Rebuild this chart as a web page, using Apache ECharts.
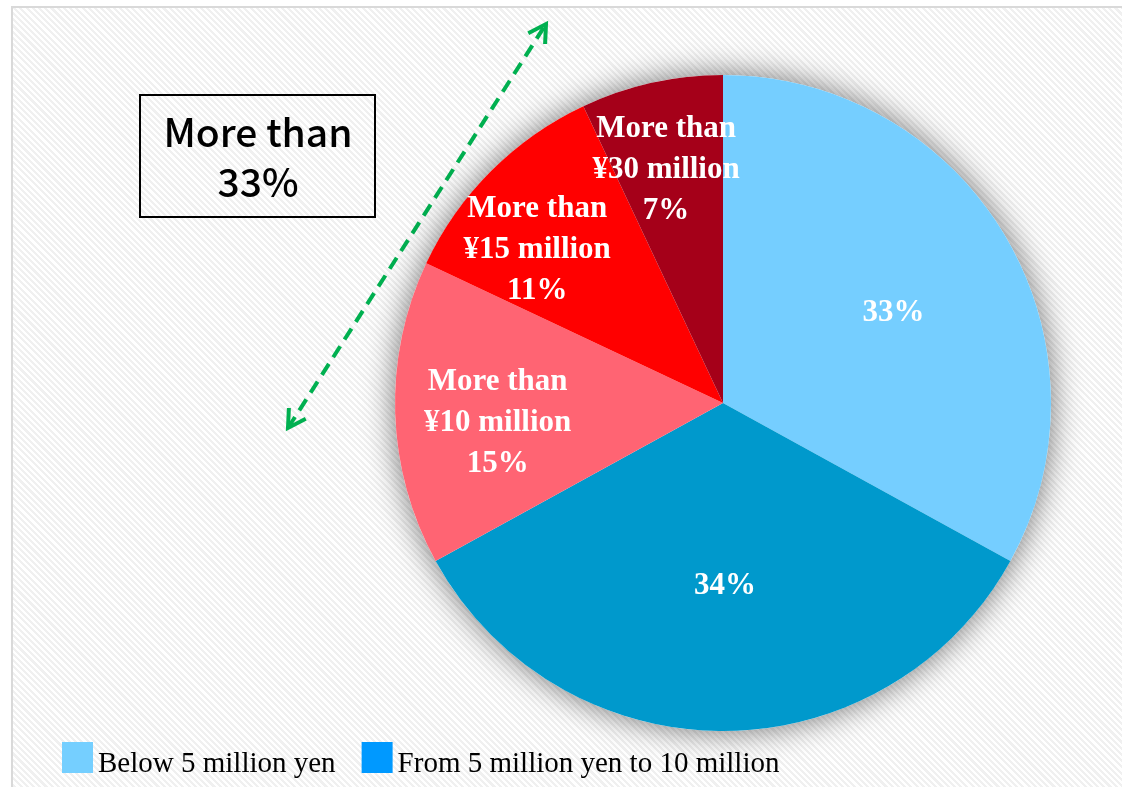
<!DOCTYPE html>
<html lang="en">

<head>
    <meta charset="UTF-8">
    <title>Income share</title>
    <script type="text/javascript" src="https://cdn.jsdelivr.net/npm/echarts@6/dist/echarts.min.js"></script>
    <style>
        html, body {
            margin: 0;
            padding: 0;
            background: #fff;
            overflow: hidden;
        }
        #frame {
            position: absolute;
            left: 11px;
            top: 6px;
            width: 1130px;
            height: 800px;
            border: 2px solid #d9d9d9;
            background: repeating-linear-gradient(45deg, #ffffff 0px, #ffffff 2.2px, #f0f0f0 2.2px, #f0f0f0 4.4px);
        }
        #container {
            position: absolute;
            left: 0;
            top: 0;
            width: 1122px;
            height: 787px;
        }
    </style>
</head>

<body>
    <div id="frame"></div>
    <div id="container"></div>
</body>
<script>
    // categories and shares (percent), clockwise from 12 o'clock
    const categories = ['Below 5 million yen', 'From 5 million yen to 10 million',
        'More than ¥10 million', 'More than ¥15 million', 'More than ¥30 million'];
    const shares = [33, 34, 15, 11, 7];
    const sliceColors = ['#75CEFF', '#0099CC', '#FF6473', '#FF0000', '#A50019'];
    const legendNames = ['Below 5 million yen', 'From 5 million yen to 10 million'];
    const legendColors = ['#75CFFF', '#0099FF'];
    // label placement: share of radius + small pixel nudge
    const labelPos = [0.59, 0.55, 0.69, 0.74, 0.74];
    const labelNudge = [[1, 10], [2, -1], [5, 13], [-11, 22], [-3, 8]];

    const cx = 723, cy = 403, R = 328;

    var myChart = echarts.init(document.getElementById('container'));

    let pieData = categories.map((c, i) => ({
        name: c,
        value: shares[i],
        itemStyle: { color: sliceColors[i] }
    }));

    // arrow head helper (annotation only)
    function head(tip, from, len) {
        let dx = from[0] - tip[0], dy = from[1] - tip[1];
        let d = Math.hypot(dx, dy);
        dx /= d; dy /= d;
        let a = Math.PI / 6;
        let p1 = [tip[0] + len * (dx * Math.cos(a) - dy * Math.sin(a)), tip[1] + len * (dx * Math.sin(a) + dy * Math.cos(a))];
        let p2 = [tip[0] + len * (dx * Math.cos(-a) - dy * Math.sin(-a)), tip[1] + len * (dx * Math.sin(-a) + dy * Math.cos(-a))];
        return [p1, tip, p2];
    }
    const arrowA = [288, 428], arrowB = [546, 24];
    const green = '#00B050';

    var option = {
        animation: false,
        backgroundColor: 'transparent',
        legend: {
            left: 62,
            top: 742,
            padding: 0,
            icon: 'rect',
            itemWidth: 31,
            itemHeight: 31,
            itemGap: 26,
            selectedMode: false,
            formatter: name => '{t|' + name + '}',
            textStyle: {
                fontFamily: 'Liberation Serif',
                fontSize: 29,
                color: '#000',
                rich: {
                    t: {
                        fontFamily: 'Liberation Serif',
                        fontSize: 29,
                        color: '#000',
                        padding: [14, 0, 0, 0]
                    }
                }
            },
            data: legendNames.map((n, i) => ({ name: n, itemStyle: { color: legendColors[i] } }))
        },
        graphic: [{
            type: 'rect',
            shape: { x: 140, y: 95, width: 235, height: 122 },
            style: { fill: 'transparent', stroke: '#000', lineWidth: 2 }
        }, {
            type: 'text',
            x: 258,
            y: 157,
            style: {
                text: 'More than\n33%',
                fontFamily: 'Noto Sans CJK JP',
                fontSize: 39,
                fontWeight: 500,
                lineHeight: 50,
                fill: '#000',
                align: 'center',
                verticalAlign: 'middle'
            }
        }, {
            type: 'polyline',
            shape: { points: [arrowA, arrowB] },
            style: { stroke: green, lineWidth: 4, lineDash: [13, 8], fill: null }
        }, {
            type: 'polyline',
            shape: { points: head(arrowB, arrowA, 20) },
            style: { stroke: green, lineWidth: 4, fill: null }
        }, {
            type: 'polyline',
            shape: { points: head(arrowA, arrowB, 20) },
            style: { stroke: green, lineWidth: 4, fill: null }
        }],
        series: [{
            // shadow disk under the pie
            type: 'pie',
            silent: true,
            z: 1,
            center: [cx, cy],
            radius: R,
            label: { show: false },
            labelLine: { show: false },
            data: [{
                value: 1,
                name: '',
                itemStyle: {
                    color: '#ffffff',
                    shadowBlur: 32,
                    shadowColor: 'rgba(0,0,0,0.55)'
                }
            }]
        }, {
            type: 'pie',
            z: 2,
            center: [cx, cy],
            radius: R,
            startAngle: 90,
            clockwise: true,
            silent: true,
            avoidLabelOverlap: false,
            itemStyle: { borderWidth: 0 },
            data: pieData,
            label: {
                show: true,
                position: 'inside',
                color: '#fff',
                fontFamily: 'Liberation Serif',
                fontWeight: 'bold',
                fontSize: 31,
                lineHeight: 41,
                align: 'center',
                formatter: p => {
                    if (p.dataIndex < 2) return p.value + '%';
                    let parts = p.name.split(' ¥');
                    return parts[0] + '\n¥' + parts[1] + '\n' + p.value + '%';
                }
            },
            labelLine: { show: false },
            labelLayout: function (params) {
                let r = params.labelRect;
                let i = params.dataIndex;
                let lx = r.x + r.width / 2 - cx;
                let ly = r.y + r.height / 2 - cy;
                let k = labelPos[i] * 2 - 1;
                return { dx: lx * k + labelNudge[i][0], dy: ly * k + labelNudge[i][1], hideOverlap: false };
            }
        }]
    };
    myChart.setOption(option);
</script>

</html>
